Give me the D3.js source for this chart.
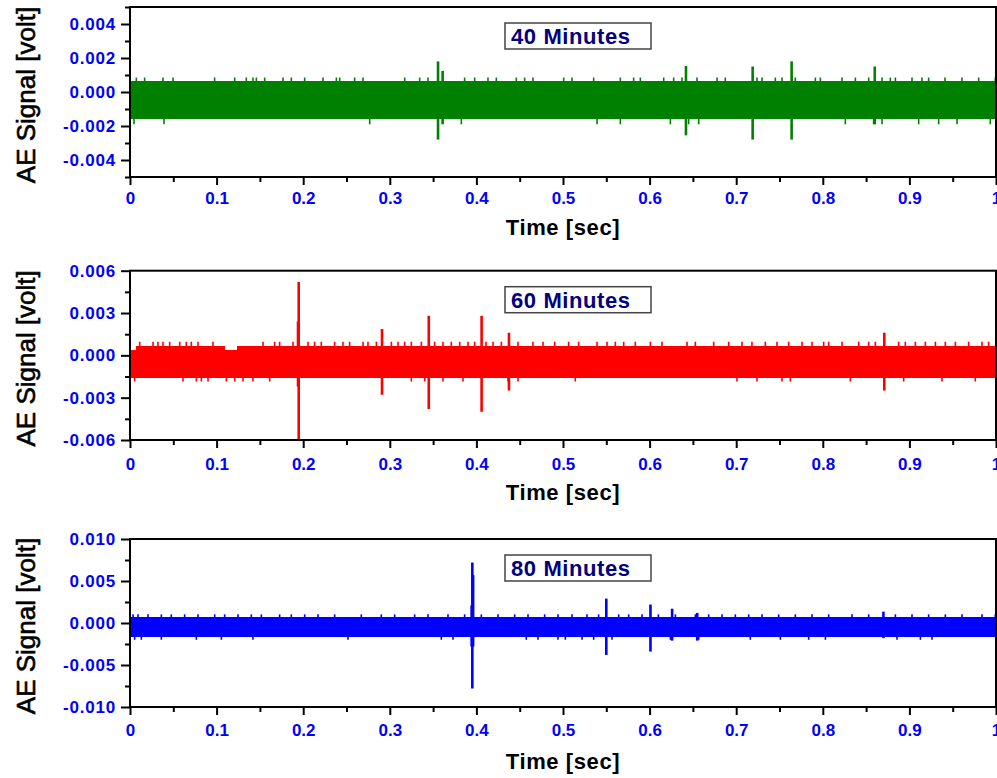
<!DOCTYPE html>
<html><head><meta charset="utf-8">
<script src="https://cdn.jsdelivr.net/npm/d3@7"></script>
<style>
html,body{margin:0;padding:0;background:#fff;}
svg{display:block;font-family:"Liberation Sans",Arial,sans-serif;}
</style></head>
<body><svg id="chart" width="997" height="778"></svg>
<script>
// ---------- DATA ----------
const xTickValues = [0,0.1,0.2,0.3,0.4,0.5,0.6,0.7,0.8,0.9,1];
const xTickLabels = ["0","0.1","0.2","0.3","0.4","0.5","0.6","0.7","0.8","0.9","1"];
const xMinorValues = [0.05,0.15,0.25,0.35,0.45,0.55,0.65,0.75,0.85,0.95];
const panelLabels = ["40 Minutes","60 Minutes","80 Minutes"];
const xTitle = "Time [sec]";
const yTitle = "AE Signal [volt]";

// 40 minutes
const yDomain40 = [-0.005, 0.005];
const yMajor40 = [-0.004,-0.002,0,0.002,0.004];
const yMinor40 = [-0.005,-0.003,-0.001,0.001,0.003,0.005];
const band40 = [[0,1,0.00065,-0.00157]];
const bursts40 = [[0.3557,0.0018,-0.0028],[0.361,0.00124,-0.0019],[0.642,0.00153,-0.00255],
  [0.719,0.0015,-0.0028],[0.764,0.0018,-0.0028],[0.860,0.0015,-0.0019]];
const smallUpT40 = [0.0073,0.0169,0.0381,0.0497,0.0977,0.1209,0.1343,0.142,0.1459,0.1555,0.1767,0.1863,
  0.2017,0.2229,0.2383,0.2421,0.2594,0.2691,0.3172,0.3345,0.3441,0.3864,0.398,0.4134,0.423,0.4461,0.4557,0.4653,
  0.5008,0.5104,0.5354,0.5662,0.5816,0.5893,0.6163,0.6278,0.6374,0.6547,0.6779,0.6874,0.724,0.7298,0.7452,
  0.7529,0.7683,0.7914,0.7972,0.8222,0.8376,0.853,0.8684,0.878,0.8838,0.903,0.9145,0.9222,0.9411,0.9607,0.98,0.9992];
const smallUpV40 = 0.00085;
const smallDownT40 = [0.0046,0.0393,0.2768,0.3826,0.5393,0.5662,0.624,0.6451,0.6567,0.826,0.8587,0.8684,
  0.9107,0.9338,0.955,0.9934];
const smallDownV40 = -0.0019;

// 60 minutes
const yDomain60 = [-0.006, 0.006];
const yMajor60 = [-0.006,-0.003,0,0.003,0.006];
const yMinor60 = [-0.0045,-0.0015,0.0015,0.0045];
const band60 = [[0,0.0075,0.0004,-0.00158],[0.0075,0.109,0.00069,-0.00158],[0.109,0.124,0.00038,-0.00158],
  [0.124,1,0.00069,-0.00158]];
const bursts60 = [[0.1948,0.0052,-0.006],[0.194,0.0024,-0.0022],[0.291,0.00187,-0.0028],[0.345,0.0028,-0.0038],
  [0.406,0.0028,-0.004],[0.4376,0.0016,-0.0025],[0.871,0.0016,-0.0025]];
const smallUpT60 = [0.0112,0.0266,0.0323,0.0381,0.0458,0.0574,0.065,0.0708,0.0785,0.0958,0.1536,0.167,0.1728,
  0.1882,0.2055,0.2132,0.2209,0.2363,0.2459,0.2536,0.2691,0.2748,0.2845,0.3018,0.3095,0.3172,0.3249,0.3364,
  0.3518,0.3614,0.371,0.3807,0.3903,0.398,0.4111,0.4192,0.4288,0.448,0.4653,0.4769,0.4904,
  0.5065,0.5181,0.5393,0.5508,0.5604,0.5701,0.5835,0.6009,0.6143,0.6432,0.6528,0.674,0.6913,0.7067,0.7182,
  0.7336,0.7471,0.7606,0.776,0.7875,0.801,0.8068,0.8222,0.8415,0.853,0.8607,0.8876,0.8953,0.9069,0.9184,
  0.93,0.9415,0.9531,0.9684,0.9838,0.9915];
const smallUpV60 = 0.00097;
const smallDownT60 = [0.0054,0.0612,0.0766,0.0824,0.0901,0.1113,0.1209,0.1305,0.142,0.1613,0.3249,0.3403,
  0.3614,0.3845,0.4365,0.448,0.5142,0.7009,0.724,0.7529,0.7625,0.8318,0.8934,0.9376,0.9761];
const smallDownV60 = -0.00186;

// 80 minutes
const yDomain80 = [-0.01, 0.01];
const yMajor80 = [-0.01,-0.005,0,0.005,0.01];
const yMinor80 = [-0.0075,-0.0025,0.0025,0.0075];
const band80 = [[0,1,0.00075,-0.00163]];
const bursts80 = [[0.3953,0.0072,-0.0078],[0.3962,0.0057,-0.0028],[0.3945,0.0021,-0.0028],[0.55,0.0029,-0.0038],
  [0.601,0.0022,-0.0034],[0.626,0.0017,-0.0021],[0.655,0.0012,-0.0021],[0.87,0.00135,-0.0018]];
const smallUpT80 = [0.0035,0.0092,0.0208,0.0362,0.0477,0.0631,0.0785,0.0978,0.1093,0.1247,0.1401,0.1517,
  0.1728,0.1863,0.2017,0.2171,0.2363,0.2671,0.2902,0.3056,0.3287,0.3441,0.3672,0.3864,0.4057,0.4249,0.4442,
  0.4596,0.4788,0.4942,0.5104,0.5277,0.5411,0.5643,0.5758,0.5912,0.6101,0.6298,0.6528,0.6682,0.6836,0.699,
  0.7144,0.7298,0.749,0.7683,0.7875,0.8068,0.8337,0.853,0.8838,0.903,0.9222,0.9415,0.9607,0.9838,0.9992];
const smallUpV80 = 0.00103;
const smallDownT80 = [0.0054,0.0131,0.0362,0.0766,0.1055,0.142,0.2517,0.3595,0.373,0.4576,0.4711,0.4942,
  0.5027,0.522,0.5354,0.5566,0.624,0.6567,0.7163,0.751,0.7837,0.803,0.8857,0.9127,0.9261];
const smallDownV80 = -0.002;

// ---------- LAYOUT / STYLE ----------
const plotLeft = 130, plotRight = 996;
const panelTops = [7, 270.7, 539];
const panelBottoms = [177, 440, 707];
const xLabelPads = [7, 10, 9];
const xTitleBaselines = [235, 500, 769];
const seriesColors = ["#008000", "#ff0000", "#0000ff"];
const tickBlue = "#0000ff";

const panels = [
  {dom: yDomain40, maj: yMajor40, min: yMinor40, band: band40, bursts: bursts40,
   upT: smallUpT40, upV: smallUpV40, dnT: smallDownT40, dnV: smallDownV40},
  {dom: yDomain60, maj: yMajor60, min: yMinor60, band: band60, bursts: bursts60,
   upT: smallUpT60, upV: smallUpV60, dnT: smallDownT60, dnV: smallDownV60},
  {dom: yDomain80, maj: yMajor80, min: yMinor80, band: band80, bursts: bursts80,
   upT: smallUpT80, upV: smallUpV80, dnT: smallDownT80, dnV: smallDownV80}
];

const svg = d3.select("#chart");
const x = d3.scaleLinear().domain([0,1]).range([plotLeft, plotRight]);

panels.forEach((p, i) => {
  const top = panelTops[i], bottom = panelBottoms[i];
  const y = d3.scaleLinear().domain(p.dom).range([bottom, top]);
  const color = seriesColors[i];
  const g = svg.append("g");
  const clipId = "clip" + i;
  svg.append("clipPath").attr("id", clipId).append("rect")
    .attr("x", plotLeft).attr("y", top).attr("width", plotRight - plotLeft).attr("height", bottom - top);
  const pg = g.append("g").attr("clip-path", `url(#${clipId})`);

  // band of continuous signal
  pg.selectAll("rect.band").data(p.band).join("rect").attr("class","band")
    .attr("x", d => x(d[0])).attr("width", d => x(d[1]) - x(d[0]) + 0.5)
    .attr("y", d => y(d[2])).attr("height", d => y(d[3]) - y(d[2]))
    .attr("fill", color).attr("shape-rendering","crispEdges");

  // small excursions
  const bandAt = (t) => p.band.find(s => t >= s[0] && t <= s[1]) || p.band[0];
  pg.selectAll("line.up").data(p.upT).join("line").attr("class","up")
    .attr("x1", d => x(d)).attr("x2", d => x(d))
    .attr("y1", d => y(bandAt(d)[2]) + 1).attr("y2", y(p.upV))
    .attr("stroke", color).attr("stroke-width", 1.6);
  pg.selectAll("line.dn").data(p.dnT).join("line").attr("class","dn")
    .attr("x1", d => x(d)).attr("x2", d => x(d))
    .attr("y1", d => y(bandAt(d)[3]) - 1).attr("y2", y(p.dnV))
    .attr("stroke", color).attr("stroke-width", 1.6);

  // bursts
  pg.selectAll("line.burst").data(p.bursts).join("line").attr("class","burst")
    .attr("x1", d => x(d[0])).attr("x2", d => x(d[0]))
    .attr("y1", d => y(d[1])).attr("y2", d => y(d[2]))
    .attr("stroke", color).attr("stroke-width", 2.6);

  // frame
  g.append("rect").attr("x", plotLeft).attr("y", top)
    .attr("width", plotRight - plotLeft).attr("height", bottom - top)
    .attr("fill","none").attr("stroke","#000").attr("stroke-width",2);

  // x axis
  const xAxis = d3.axisBottom(x).tickValues(xTickValues)
    .tickFormat((d, k) => xTickLabels[k]).tickSize(8).tickPadding(xLabelPads[i]);
  const xa = g.append("g").attr("transform", `translate(0,${bottom})`).call(xAxis);
  const xm = g.append("g").attr("transform", `translate(0,${bottom})`)
    .call(d3.axisBottom(x).tickValues(xMinorValues).tickFormat("").tickSize(5));
  // y axis
  const yAxis = d3.axisLeft(y).tickValues(p.maj).tickFormat(d => d.toFixed(3))
    .tickSize(9).tickPadding(5);
  const ya = g.append("g").attr("transform", `translate(${plotLeft},0)`).call(yAxis);
  const ym = g.append("g").attr("transform", `translate(${plotLeft},0)`)
    .call(d3.axisLeft(y).tickValues(p.min).tickFormat("").tickSize(5));
  [xa, xm, ya, ym].forEach(a => {
    a.select(".domain").remove();
    a.selectAll(".tick line").attr("stroke","#000").attr("stroke-width",2);
  });
  [xa, ya].forEach(a => a.selectAll(".tick text")
    .attr("fill", tickBlue).style("font-size","17px").style("font-weight","bold")
    .style("font-family",'"Liberation Sans",Arial,sans-serif'));
  ya.selectAll(".tick text").style("letter-spacing","0.8px");

  // x title
  g.append("text").attr("x", (plotLeft + plotRight) / 2).attr("y", xTitleBaselines[i])
    .attr("text-anchor","middle").style("font-size","22px").style("font-weight","bold")
    .style("letter-spacing","0.6px").attr("fill","#000").text(xTitle);

  // y title
  g.append("text").attr("transform", `translate(35,${(top + bottom) / 2 + 3}) rotate(-90)`)
    .attr("text-anchor","middle").style("font-size","26px").attr("fill","#000")
    .attr("stroke","#000").attr("stroke-width",0.6).text(yTitle);

  // label box
  const bx = 505, by = top + 16;
  g.append("rect").attr("x", bx).attr("y", by).attr("width", 146).attr("height", 26)
    .attr("fill","#fff").attr("stroke","#444").attr("stroke-width",1.5);
  g.append("text").attr("x", bx + 6).attr("y", by + 21)
    .style("font-size","22px").style("font-weight","bold").style("letter-spacing","0.6px")
    .attr("fill","#000080").text(panelLabels[i]);
});
</script></body></html>
